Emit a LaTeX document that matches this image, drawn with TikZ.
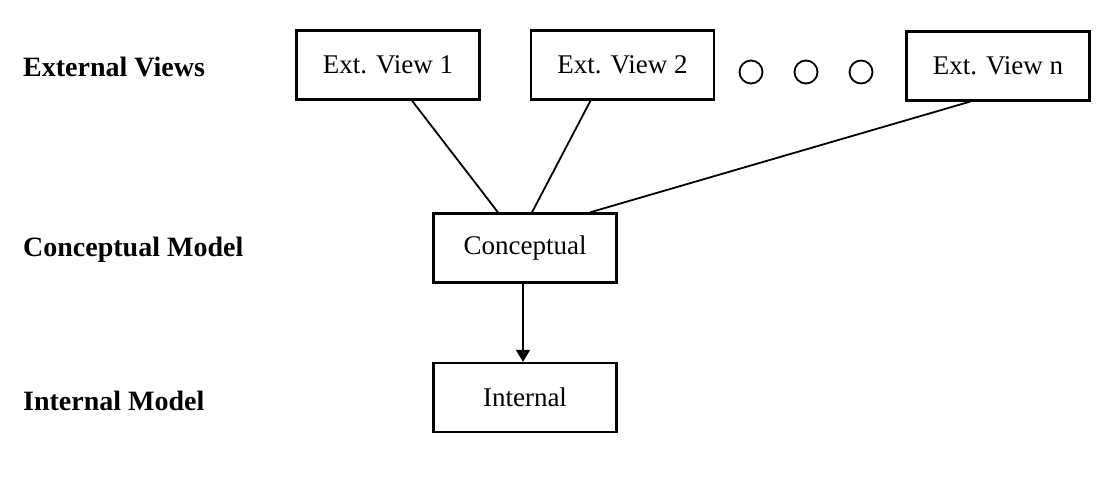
\documentclass[tikz,border=0pt]{standalone}
\usepackage{fontspec}
\setmainfont{Liberation Serif}
\usetikzlibrary{arrows.meta}
\begin{document}
\begin{tikzpicture}[x=1pt,y=-1pt,
  box/.style={draw=black,line width=2.3pt,fill=white,minimum width=183pt,minimum height=69pt,inner sep=0pt,
    font=\fontsize{27}{30}\selectfont},
  lvl/.style={anchor=base west,inner sep=0pt,font=\fontsize{28}{32}\selectfont\bfseries},
  conn/.style={line width=1.8pt},
  dot/.style={draw=black,line width=1.8pt,circle,minimum size=23pt,inner sep=0pt}]
\useasboundingbox[fill=white] (0,0) rectangle (1108,483);
\node[lvl] (lext) at (23,76) {External Views};
\node[lvl] (lcon) at (23,256) {Conceptual Model};
\node[lvl] (lint) at (23,410) {Internal Model};
\node[box] (v1) at (388,65) {Ext. View 1};
\node[box] (v2) at (622.5,65) {Ext. View 2};
\node[box] (vn) at (998,66) {Ext. View n};
\node[dot] (d1) at (751,72) {};
\node[dot] (d2) at (806,72) {};
\node[dot] (d3) at (861,72) {};
\node[box] (c) at (525,248) {Conceptual};
\node[box] (i) at (525,397.5) {Internal};
\draw[conn] ([xshift=24pt]v1.south) -- ([xshift=-27pt]c.north);
\draw[conn] ([xshift=-32pt]v2.south) -- ([xshift=7pt]c.north);
\draw[conn] ([xshift=-28pt]vn.south) -- ([xshift=65pt]c.north);
\draw[conn,-{Triangle[length=12pt,width=14pt]}] ([xshift=-2pt]c.south) -- ([xshift=-2pt]i.north);
\end{tikzpicture}
\end{document}
